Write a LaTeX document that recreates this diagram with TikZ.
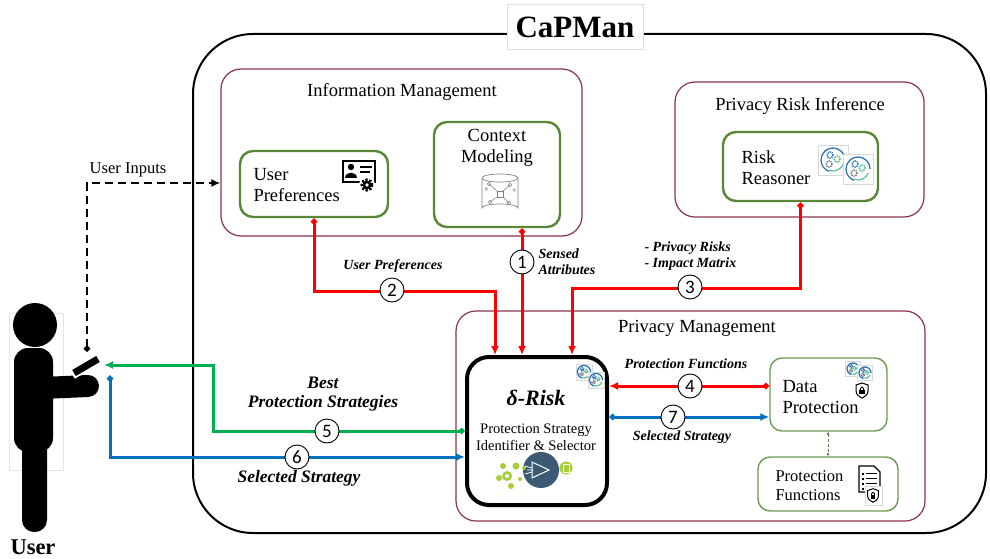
\documentclass[tikz,border=0pt]{standalone}
\usepackage{fontspec}
\setmainfont{Liberation Serif}
\newfontfamily\numfont{Carlito}
\usetikzlibrary{arrows.meta,calc}

\definecolor{grpred}{RGB}{140,50,75}
\definecolor{compgreen}{RGB}{90,135,55}
\definecolor{softgreen}{RGB}{110,155,80}
\definecolor{flowgreen}{RGB}{0,176,80}
\definecolor{flowblue}{RGB}{0,112,192}
\definecolor{iconblue}{RGB}{46,117,182}
\definecolor{iconteal}{RGB}{80,190,150}
\definecolor{slate}{RGB}{61,90,117}
\definecolor{lime}{RGB}{166,206,57}

\tikzset{
  >={Latex[length=8pt,width=7pt]},
  grp/.style={draw=grpred, line width=1.2pt, rounded corners=20pt},
  comp/.style={draw=compgreen, line width=2.4pt, rounded corners=13pt, fill=white},
  compthin/.style={draw=softgreen, line width=1.4pt, rounded corners=12pt, fill=white},
  ttl/.style={font=\fontsize{18.5}{21}\selectfont},
  ctext/.style={font=\fontsize{18.5}{21}\selectfont, align=left, anchor=west},
  num/.style={circle, draw, line width=0.9pt, fill=white, inner sep=0pt, minimum size=24pt,
              font=\numfont\fontsize{19}{19}\selectfont},
  lbl/.style={font=\bfseries\itshape\fontsize{14}{16}\selectfont, align=center},
  biglbl/.style={font=\bfseries\itshape\fontsize{17.5}{19.5}\selectfont, align=center},
  redflow/.style={draw=red, line width=3pt},
  greenflow/.style={draw=flowgreen, line width=3pt},
  blueflow/.style={draw=flowblue, line width=3pt},
  dia/.style={{Diamond[length=7pt,width=7pt]}-{Latex[length=9pt,width=8pt]}},
  pics/cogs/.style={code={
    \draw[gray!30, fill=white, line width=0.4pt] (-15,-15) rectangle (15,15);
    \draw[iconblue, line width=1.3pt] (12,0) arc[start angle=0, end angle=250, radius=12pt];
    \draw[iconteal, line width=1.1pt] (250:11pt) arc[start angle=250, end angle=340, radius=11pt];
    \draw[iconblue, line width=1.6pt, dash pattern=on 1pt off 0.9pt] (-3,-5) circle (3pt);
    \draw[iconteal, line width=1.6pt, dash pattern=on 1pt off 0.9pt] (4,-1) circle (3pt);
    \draw[gray, line width=1.6pt, dash pattern=on 1pt off 0.9pt] (-4,4) circle (3pt);
  }},
  pics/shieldlock/.style={code={
    \draw[fill=white, line width=1pt] (0,-7) -- (6,-5) -- (6,1) .. controls (6,5) and (2,7) .. (0,8)
        .. controls (-2,7) and (-6,5) .. (-6,1) -- (-6,-5) -- cycle;
    \fill (-2.6,0) rectangle (2.6,4);
    \draw[line width=0.9pt] (-1.6,0) -- (-1.6,-1.5) arc[start angle=180, end angle=0, radius=1.6pt] -- (1.6,0);
  }}
}

\begin{document}
\begin{tikzpicture}[x=1pt,y=-1pt]
\useasboundingbox (0,0) rectangle (990,559);

% ---------- outer system frame ----------
\node[draw, line width=2pt, rounded corners=60pt, minimum width=793pt, minimum height=499pt]
  (capman) at (589.5,283.5) {};
\node[draw=gray!25, fill=white, line width=0.5pt, minimum width=136pt, minimum height=45pt,
      font=\bfseries\fontsize{31}{31}\selectfont] (title) at (575,27) {CaPMan};

% ---------- groups ----------
\node[grp, minimum width=361pt, minimum height=167pt] (im) at (401.5,152.5) {};
\node[ttl] (imt) at (402,92) {Information Management};
\node[grp, minimum width=249pt, minimum height=135pt] (pri) at (799.5,149.5) {};
\node[ttl] (prit) at (800,106) {Privacy Risk Inference};
\node[grp, minimum width=469pt, minimum height=210pt] (pm) at (690.5,416) {};
\node[ttl] (pmt) at (697,328) {Privacy Management};

% ---------- components ----------
\node[comp, minimum width=148pt, minimum height=66pt] (upref) at (314,184) {};
\node[ctext] (upreft) at (250,185) {User\\Preferences};
\node[comp, minimum width=126pt, minimum height=105pt] (ctx) at (497,174.5) {};
\node[font=\fontsize{18.5}{21}\selectfont, align=center] (ctxt) at (497,148) {Context\\Modeling};
\node[comp, minimum width=155pt, minimum height=69pt] (rr) at (800.5,166.5) {};
\node[ctext] (rrt) at (738,168) {Risk\\Reasoner};

\node[draw, line width=4pt, rounded corners=22pt, minimum width=140pt, minimum height=148pt, fill=white]
  (drisk) at (537,431) {};
\node[font=\bfseries\itshape\fontsize{22}{22}\selectfont] (drt) at (536,398) {δ-Risk};
\node[font=\fontsize{14.5}{17}\selectfont, align=center] (drs) at (536,437) {Protection Strategy\\Identifier \& Selector};

\node[compthin, minimum width=117pt, minimum height=73pt] (dp) at (828.5,394.5) {};
\node[ctext] (dpt) at (779,397) {Data\\Protection};
\node[compthin, minimum width=140pt, minimum height=54pt] (pf) at (828,484) {};
\node[ctext, font=\fontsize{16.5}{19}\selectfont] (pft) at (772,486) {Protection\\Functions};

% ---------- icons ----------
% profile card with gear
\draw[line width=2pt] (343,161) rectangle (375,182);
\fill (351,167) circle (3.2pt);
\fill (345,178) .. controls (345,171) and (357,171) .. (357,178) -- cycle;
\draw[line width=1.6pt] (360,167) -- (372,167) (360,172) -- (370,172);
\fill[white] (367,185) circle (8pt);
\draw[line width=3pt, dash pattern=on 2pt off 1.6pt] (367,185) circle (5pt);
\fill (367,185) circle (4.5pt);
\fill[white] (367,185) circle (1.8pt);

% data store with a small graph
\draw[gray, line width=0.7pt] (482,178) -- (482,208) arc[start angle=180, end angle=0, x radius=18pt, y radius=4pt] -- (518,178);
\draw[gray, line width=0.7pt] (500,178) ellipse [x radius=18pt, y radius=4pt];
\begin{scope}[gray, line width=0.5pt]
  \draw (497,191) rectangle (503,197);
  \draw (497,191) -- (489,184) (503,191) -- (510,185) (497,197) -- (490,202) (503,197) -- (509,203);
  \draw (489,184) circle (1.8pt) (510,185) circle (1.8pt) (490,202) circle (1.8pt) (509,203) circle (1.8pt)
        (486,189) circle (1.4pt) (514,190) circle (1.4pt);
\end{scope}

% reasoning gears
\pic at (833,160) {cogs};
\pic at (858,169) {cogs};
\pic[scale=0.55] at (584,372) {cogs};
\pic[scale=0.55] at (596,380) {cogs};
\pic[scale=0.5] at (853,369) {cogs};
\pic[scale=0.5] at (865,373) {cogs};
\pic at (862,390) {shieldlock};

% function list document
\draw[line width=1.3pt, fill=white] (859,466) -- (874,466) -- (880,472) -- (880,492) -- (859,492) -- cycle;
\foreach \yy in {473,478,483,488}{
  \fill (862,\yy) rectangle (864,\yy+1.8);
  \draw[line width=1.1pt] (866,\yy+0.9) -- (877,\yy+0.9);
}
\draw[gray!30, fill=white, line width=0.4pt] (865,486) rectangle (882,505);
\pic[scale=0.9] at (873,495) {shieldlock};

% strategy selector badge
\fill[slate] (541,470) circle (18pt);
\draw[white, line width=1pt] (532,462) -- (532,478) -- (549,470) -- cycle;
\draw[white, line width=0.8pt] (525,466) -- (532,468) (525,474) -- (532,472) (527,470) -- (533,470);
\draw[lime, line width=1pt] (559,469) -- (566,468);
\fill[lime] (566,468) circle (6.5pt);
\draw[white, line width=0.7pt] (563,464) rectangle (569,472);
\foreach \cx/\cy/\rr in {507/476/5,516/466/3.5,503/466/3,511/486/3,520/479/2,499/478/3,524/468/2}{
  \fill[lime] (\cx,\cy) circle (\rr pt);
}
\fill[white] (507,476) circle (2pt);

% ---------- user figure ----------
\draw[gray!20, line width=0.5pt] (9,313) rectangle (63,470);
\fill (35,325) circle (22pt);
\fill[rounded corners=14pt] (14,348) rectangle (53,452);
\fill[rounded corners=12pt] (22,430) rectangle (47,532);
\draw[line width=22pt, line cap=round] (42,388) -- (88,386);
\draw[white, line width=11pt] (72,374) -- (99,358);
\draw[line width=7pt] (74,373) -- (98,359);
\node[font=\bfseries\fontsize{22.5}{22.5}\selectfont] (userlbl) at (33,547) {User};

\coordinate (phone) at (87,352);
\coordinate (userin) at (104,365);
\coordinate (userout) at (110,375);
\coordinate (gturn) at (213,365);

% ---------- connectors ----------
\coordinate (dtop2) at ([xshift=-42pt]drisk.north);
\coordinate (dtop1) at ([xshift=-15pt]drisk.north);
\coordinate (dtop3) at ([xshift=35pt]drisk.north);

\draw[line width=2.6pt, dash pattern=on 8pt off 5pt, dia] (phone) |- ([yshift=-30.5pt]im.west);
\node[font=\fontsize{16.5}{18}\selectfont] (uinp) at (128,170) {User Inputs};

\draw[redflow, dia] (upref.south) -- ++(0,73) -| (dtop2);
\draw[redflow, dia] (ctx.south -| dtop1) -- (dtop1);
\draw[redflow, dia] (rr.south) -- ++(0,86) -| (dtop3);
\draw[redflow, dia] ([yshift=8.5pt]dp.west) -- ([yshift=8.5pt]dp.west -| drisk.east);
\draw[blueflow, dia] ([yshift=-22.5pt]dp.west -| drisk.east) -- ([yshift=-22.5pt]dp.west);
\draw[greenflow, dia] (drisk.west) -| (gturn) -- (userin);
\draw[blueflow, dia] (userout) |- ([yshift=-26pt]drisk.west);
\draw[softgreen!80!black, line width=0.8pt, densely dashed,
      {Latex[length=3pt,width=3pt]}-{Latex[length=3pt,width=3pt]}] (dp.south -| pf.north) -- (pf.north);

% step numbers
\node[num] (n1) at (522,262) {1};
\node[num] (n2) at (392,290) {2};
\node[num] (n3) at (690,287) {3};
\node[num] (n4) at (690,386) {4};
\node[num] (n5) at (327,431) {5};
\node[num] (n6) at (297,457) {6};
\node[num] (n7) at (673,417) {7};

% flow labels
\node[lbl] (l2) at (393,266) {User Preferences};
\node[lbl, align=left, anchor=west] (l1) at (535,262) {Sensed\\Attributes};
\node[lbl, align=left, anchor=west] (l3) at (641,256) {- Privacy Risks\\- Impact Matrix};
\node[lbl] (l4) at (686,364) {Protection Functions};
\node[lbl] (l7) at (682,437) {Selected Strategy};
\node[biglbl] (l5) at (323,394) {Best\\Protection Strategies};
\node[biglbl] (l6) at (299,478) {Selected Strategy};
\end{tikzpicture}
\end{document}
